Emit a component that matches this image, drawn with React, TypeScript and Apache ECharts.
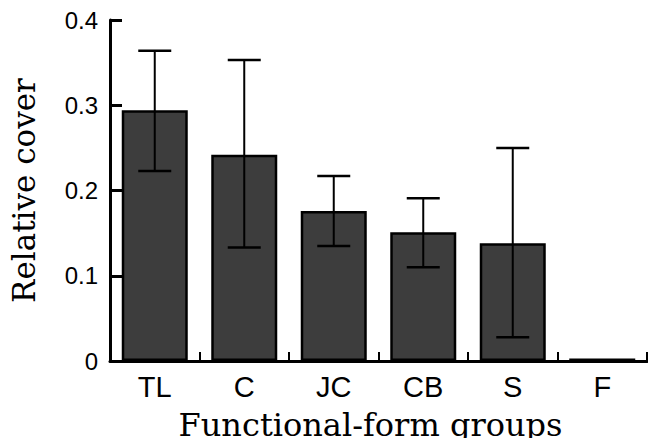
import React, { useEffect, useRef } from "react";
import * as echarts from "echarts";

const categories = ["TL", "C", "JC", "CB", "S", "F"];
const meanCover = [0.294, 0.242, 0.176, 0.151, 0.138, 0.003];
const errLow = [0.223, 0.133, 0.135, 0.11, 0.028, null];
const errHigh = [0.364, 0.353, 0.217, 0.191, 0.25, null];
const yTicks = [0, 0.1, 0.2, 0.3, 0.4];

export default function App() {
  const ref = useRef<HTMLDivElement>(null);
  useEffect(() => {
    if (!ref.current) return;
    const chart = echarts.init(ref.current, undefined, { renderer: "svg" });
    const errData = categories
      .map((c, i) => [i, errLow[i], errHigh[i]])
      .filter((d) => d[1] !== null);
    chart.setOption({
      animation: false,
      backgroundColor: "#ffffff",
      grid: { left: 107, right: 9, top: 20, bottom: 79 },
      xAxis: {
        type: "category",
        data: categories,
        boundaryGap: true,
        name: "Functional-form groups",
        nameLocation: "middle",
        nameGap: 48,
        nameTextStyle: { fontFamily: "DejaVu Serif", fontSize: 32, color: "#000", padding: [0, 16, 0, 0] },
        axisLine: { lineStyle: { color: "#000", width: 3 } },
        axisTick: { show: true, inside: true, length: 9, lineStyle: { color: "#000", width: 2 } },
        axisLabel: {
          margin: 11,
          fontFamily: "Liberation Sans",
          fontSize: 29,
          color: "#000",
        },
        splitLine: { show: false },
      },
      yAxis: {
        type: "value",
        min: 0,
        max: 0.4,
        interval: 0.1,
        name: "Relative cover",
        nameLocation: "middle",
        nameGap: 71,
        nameRotate: 90,
        nameTextStyle: { fontFamily: "DejaVu Serif", fontSize: 31, color: "#000" },
        axisLine: { show: true, lineStyle: { color: "#000", width: 3 } },
        axisTick: { show: true, inside: true, length: 12, lineStyle: { color: "#000", width: 3 } },
        axisLabel: {
          margin: 12,
          fontFamily: "Liberation Sans",
          fontSize: 24,
          color: "#000",
          formatter: (v: number) => {
            const t = yTicks.find((x) => Math.abs(x - v) < 1e-9);
            return t === 0 ? "0" : String(Number(v.toFixed(1)));
          },
        },
        splitLine: { show: false },
      },
      series: [
        {
          type: "bar",
          data: meanCover,
          barWidth: 66,
          itemStyle: { color: "#3d3d3d", borderColor: "#000", borderWidth: 2.5 },
          z: 2,
        },
        {
          type: "custom",
          data: errData,
          z: 3,
          renderItem: (params: any, api: any) => {
            const x = api.value(0);
            const lo = api.coord([x, api.value(1)]);
            const hi = api.coord([x, api.value(2)]);
            const hw = 16.5;
            return {
              type: "group",
              children: [
                {
                  type: "line",
                  shape: { x1: lo[0], y1: lo[1], x2: hi[0], y2: hi[1] },
                  style: { stroke: "#000", lineWidth: 2 },
                },
                {
                  type: "line",
                  shape: { x1: hi[0] - hw, y1: hi[1], x2: hi[0] + hw, y2: hi[1] },
                  style: { stroke: "#000", lineWidth: 2.5 },
                },
                {
                  type: "line",
                  shape: { x1: lo[0] - hw, y1: lo[1], x2: lo[0] + hw, y2: lo[1] },
                  style: { stroke: "#000", lineWidth: 2.5 },
                },
              ],
            };
          },
        },
      ],
    });
    return () => chart.dispose();
  }, []);
  return <div ref={ref} style={{ width: 656, height: 446, margin: -8 }} />;
}
